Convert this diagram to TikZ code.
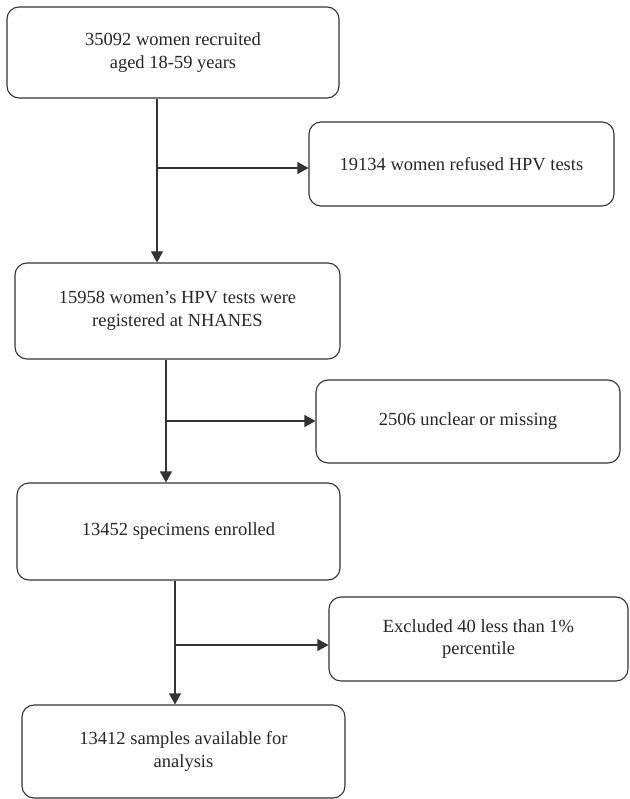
\documentclass[tikz,border=0pt]{standalone}
\usepackage{fontspec}
\setmainfont{Liberation Serif}
\usetikzlibrary{arrows.meta,positioning}

\begin{document}
\begin{tikzpicture}[
    x=1pt, y=-1pt,
    box/.style={rectangle, draw=black!80, line width=1.1pt, rounded corners=12pt, align=center, text=black!85, font=\fontsize{18.5}{22.5}\selectfont, inner sep=0pt},
    arrow/.style={-{Triangle[length=11pt,width=12pt]}, draw=black!80, line width=1.1pt}
]
\useasboundingbox (0,0) rectangle (629,799);

% Nodes
\node[box, minimum width=332pt, minimum height=91pt] (B1) at (173,52.5) {35092 women recruited\\aged 18-59 years};
\node[box, minimum width=305pt, minimum height=84pt] (B2) at (461.5,164) {19134 women refused HPV tests};
\node[box, minimum width=325pt, minimum height=96pt] (B3) at (177.5,311) {15958 women’s HPV tests were\\registered at NHANES};
\node[box, minimum width=304pt, minimum height=83pt] (B4) at (468,421.5) {2506 unclear or missing};
\node[box, minimum width=323pt, minimum height=97pt] (B5) at (178.5,531.5) {13452 specimens enrolled};
\node[box, minimum width=299pt, minimum height=84pt] (B6) at (478.5,639) {Excluded 40 less than 1\%\\percentile};
\node[box, minimum width=323pt, minimum height=93pt] (B7) at (183.5,751.5) {13412 samples available for\\analysis};

% Branch points
\coordinate (J1) at (157,168);
\coordinate (J2) at (166,421);
\coordinate (J3) at (175,645);

% Arrows
\draw[arrow] (B1.south -| J1) -- (B3.north -| J1);
\draw[arrow] (J1) -- (J1 -| B2.west);
\draw[arrow] (B3.south -| J2) -- (B5.north -| J2);
\draw[arrow] (J2) -- (J2 -| B4.west);
\draw[arrow] (B5.south -| J3) -- (B7.north -| J3);
\draw[arrow] (J3) -- (J3 -| B6.west);

\end{tikzpicture}
\end{document}
